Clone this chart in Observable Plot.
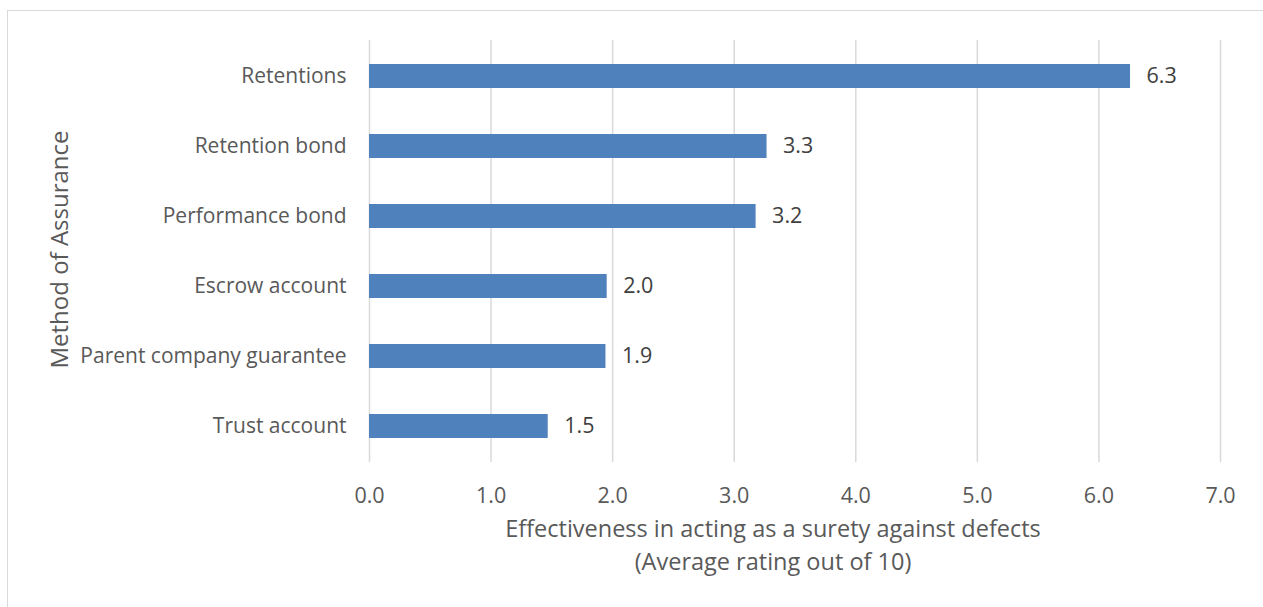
<!DOCTYPE html>
<html>
<head>
<meta charset="utf-8">
<script src="https://cdn.jsdelivr.net/npm/d3@7"></script>
<script src="https://cdn.jsdelivr.net/npm/@observablehq/plot@0.6"></script>
<style>
  html, body { margin: 0; padding: 0; background: #fff; overflow: hidden; }
  #frame { position: absolute; left: 7px; top: 10px; width: 1270px; height: 620px; border: 1.5px solid #d9d9d9; box-sizing: border-box; }
  #chart { position: absolute; left: 0; top: 0; }
</style>
</head>
<body>
<div id="frame"></div>
<div id="chart"></div>
<script>
const methods = ["Retentions", "Retention bond", "Performance bond", "Escrow account", "Parent company guarantee", "Trust account"];
const ratings = [6.26, 3.27, 3.18, 1.955, 1.945, 1.47];
const xTicks = [0, 1, 2, 3, 4, 5, 6, 7];
const xTitle = "Effectiveness in acting as a surety against defects\n(Average rating out of 10)";
const yTitle = "Method of Assurance";

const data = methods.map((m, i) => ({method: m, rating: ratings[i]}));

const textColor = "#595959";
const font = "'Open Sans', sans-serif";

const chart = Plot.plot({
  width: 1263,
  height: 607,
  marginLeft: 369,
  marginRight: 43,
  marginTop: 40,
  marginBottom: 145,
  style: {fontFamily: font, fontSize: "21px", color: textColor, background: "transparent"},
  x: {domain: [0, 7], ticks: xTicks, tickFormat: d3.format(".1f"), label: null},
  y: {domain: methods, paddingInner: 0.66, paddingOuter: 0.33, label: null},
  marks: [
    Plot.gridX(xTicks, {stroke: "#d9d9d9", strokeOpacity: 1, strokeWidth: 1.5}),
    Plot.axisX({ticks: xTicks, tickFormat: d3.format(".1f"), tickSize: 0, tickPadding: 25, fontSize: 21.5, fill: textColor, label: null}),
    Plot.axisY({tickSize: 0, tickPadding: 23, fontSize: 21, fill: textColor, label: null}),
    Plot.barX(data, {x: "rating", y: "method", fill: "#4f81bd"}),
    Plot.text(data, {x: "rating", y: "method", text: d => d.rating.toFixed(1), textAnchor: "start", dx: 16, fontSize: 21.5, fill: "#404040"}),
    Plot.text([xTitle], {frameAnchor: "bottom", text: d => d, dx: -22, dy: 80, lineHeight: 1.42, textAnchor: "middle", lineAnchor: "middle", fontSize: 23.5, fill: textColor}),
    Plot.text([yTitle], {frameAnchor: "left", text: d => d, dx: -309, dy: -2, rotate: -90, textAnchor: "middle", fontSize: 24, fill: textColor})
  ]
});
document.getElementById("chart").appendChild(chart);
</script>
</body>
</html>
